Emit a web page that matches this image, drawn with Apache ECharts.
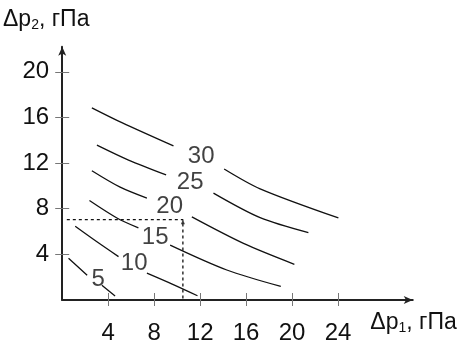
<!DOCTYPE html>
<html>
<head>
<meta charset="utf-8">
<script src="https://cdn.jsdelivr.net/npm/echarts@6/dist/echarts.min.js"></script>
<style>html,body{margin:0;padding:0;background:#fff}#c{width:460px;height:345px}</style>
</head>
<body>
<div id="c"></div>
<script>
// ---- data (Δp1, Δp2 in гПа) ----
const xTicks = [4, 8, 12, 16, 20, 24];
const yTicks = [4, 8, 12, 16, 20];
const levels = ['5', '10', '15', '20', '25', '30'];
// each curve: [Δp1, Δp2] points, null = gap where the level label sits
const curve5  = [[0.55, 3.65], [2.17, 2.17], null, [3.45, 1.3], [4.6, 0.35]];
const curve10 = [[1.13, 6.46], [3.02, 5.10], [4.9, 3.8], null, [7.37, 2.35], [9.57, 1.39], [11.77, 0.37]];
const curve15 = [[2.37, 8.72], [4.76, 7.19], [6.63, 6.32], null, [9.39, 4.81], [14.32, 2.63], [19.02, 1.19]];
const curve20 = [[2.58, 11.33], [5.04, 9.89], [7.37, 8.93], null, [11.28, 7.28], [15.77, 4.96], [20.2, 3.13]];
const curve25 = [[3.02, 13.57], [5.77, 12.26], [9.04, 10.96], null, [13.16, 9.37], [17.22, 7.22], [21.42, 5.91]];
const curve30 = [[2.58, 16.84], [5.19, 15.54], [9.68, 13.5], null, [14.09, 11.48], [17.22, 9.74], [24.03, 7.19]];
const curves = [curve5, curve10, curve15, curve20, curve25, curve30];
// label anchor for each level (data coords)
const labelX = [3.13, 6.26, 8.09, 9.35, 11.13, 12.09];
const labelY = [1.83, 3.22, 5.48, 8.17, 10.35, 12.61];
// example reading (dashed guide)
const guide = [[0.4, 7.04], [10.5, 7.04], [10.5, 0]];
const guideArrow = [[10.5, 6.85]];

const FONT = '"Liberation Sans", Arial, sans-serif';
const chart = echarts.init(document.getElementById('c'), null, {renderer: 'canvas'});

const curveSeries = curves.map((c, i) => ({
  type: 'line',
  name: levels[i],
  xAxisIndex: 0, yAxisIndex: 0,
  data: c.map(p => p === null ? '-' : p),
  showSymbol: false,
  symbol: 'none',
  connectNulls: false,
  smooth: 0.3,
  lineStyle: {color: '#111', width: 1.3},
  silent: true
}));

const tickStyle = {color: '#777', width: 1};
const nameRich = {
  a: {fontSize: 23, fontFamily: FONT, color: '#111'},
  s: {fontSize: 14, fontFamily: FONT, color: '#111', padding: [10, 0, 0, 0]}
};

chart.setOption({
  animation: false,
  grid: {left: 62, bottom: 43, width: 350.75, top: 46.7, containLabel: false},
  xAxis: [{
    type: 'value', min: 0, max: 30.5, interval: 4,
    splitLine: {show: false},
    axisLine: {show: true, lineStyle: {color: '#222', width: 2}, symbol: ['none', 'arrow'], symbolSize: [6, 9]},
    axisTick: {show: true, inside: true, length: 7, lineStyle: tickStyle, customValues: xTicks},
    axisLabel: {show: true, margin: 21, fontSize: 24, fontFamily: FONT, color: '#111', customValues: xTicks},
    name: '{a|Δp}{s|1}{a|, гПа}',
    nameLocation: 'end',
    nameGap: 44,
    nameTextStyle: {align: 'right', verticalAlign: 'top', padding: [11, 0, 0, 0], rich: nameRich}
  }, {
    type: 'value', min: 0, max: 30.5, interval: 4, position: 'bottom', gridIndex: 0,
    splitLine: {show: false},
    axisLine: {show: false},
    axisTick: {show: true, inside: false, length: 6, lineStyle: tickStyle, customValues: xTicks},
    axisLabel: {show: false}
  }],
  yAxis: [{
    type: 'value', min: 0, max: 22.2, interval: 4,
    splitLine: {show: false},
    axisLine: {show: true, lineStyle: {color: '#222', width: 2}, symbol: ['none', 'arrow'], symbolSize: [6, 9]},
    axisTick: {show: true, inside: true, length: 7, lineStyle: tickStyle, customValues: yTicks},
    axisLabel: {show: true, margin: 13, fontSize: 24, fontFamily: FONT, color: '#111', customValues: yTicks},
    name: '{a|Δp}{s|2}{a|, гПа}',
    nameLocation: 'end',
    nameGap: 15,
    nameTextStyle: {align: 'center', padding: [0, 32, 0, 0], rich: nameRich}
  }, {
    type: 'value', min: 0, max: 22.2, interval: 4, position: 'left', gridIndex: 0,
    splitLine: {show: false},
    axisLine: {show: false},
    axisTick: {show: true, inside: false, length: 7, lineStyle: tickStyle, customValues: yTicks},
    axisLabel: {show: false}
  }],
  series: curveSeries.concat([
    {
      type: 'line',
      name: 'guide',
      data: guide,
      symbol: 'none',
      lineStyle: {color: '#111', width: 1.3, type: [3, 3]},
      silent: true
    },
    {
      type: 'scatter',
      name: 'guideArrow',
      data: guideArrow,
      symbol: 'triangle',
      symbolSize: [4, 5],
      itemStyle: {color: '#111'},
      silent: true
    },
    {
      type: 'scatter',
      name: 'levels',
      data: levels.map((l, i) => ({name: l, value: [labelX[i], labelY[i]]})),
      symbolSize: 0,
      label: {show: true, position: 'inside', formatter: '{b}', fontSize: 24, fontFamily: FONT, color: '#111'},
      silent: true
    }
  ])
});
</script>
</body>
</html>
